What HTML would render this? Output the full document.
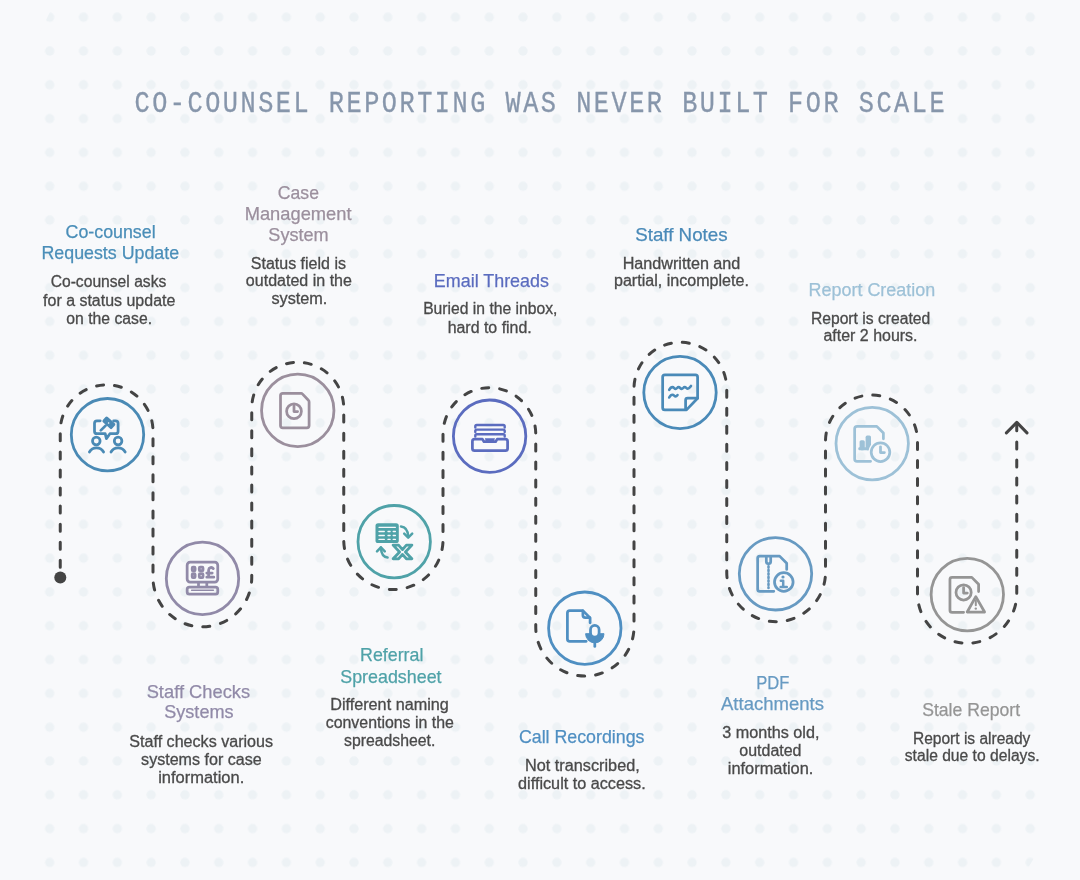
<!DOCTYPE html>
<html><head><meta charset="utf-8"><style>
html,body{margin:0;padding:0;background:#f8f9fb;}
body{width:1080px;height:880px;overflow:hidden;position:relative;}
svg{position:absolute;left:0;top:0;will-change:transform;}
.t{font-family:"Liberation Sans",sans-serif;font-size:18.6px;text-anchor:middle;stroke-width:0.25px;}
.b{font-family:"Liberation Sans",sans-serif;font-size:15.8px;text-anchor:middle;fill:#4a4a4a;stroke:#4a4a4a;stroke-width:0.3px;}
.h{font-family:"Liberation Mono",monospace;font-size:30.4px;fill:#8796ab;stroke:#8796ab;stroke-width:0.35px;text-anchor:middle;letter-spacing:3.05px;}
</style></head><body>
<svg width="1080" height="880" viewBox="0 0 1080 880">
<defs><pattern id="dots" patternUnits="userSpaceOnUse" x="32.8" y="0.3" width="33.81" height="33.81"><circle cx="16.9" cy="16.9" r="4.7" fill="#edf2f5"/></pattern></defs>
<rect x="30" y="0" width="1020" height="880" fill="url(#dots)"/>
<path d="M55.8 0 L37.7 37 L30 37 L30 0 Z M1042 845 L1020.7 880 L1080 880 L1080 845 Z" fill="#f8f9fb"/>
<text x="0" y="0" class="h" transform="translate(540.8 112.2) scale(0.83 1)">CO-COUNSEL REPORTING WAS NEVER BUILT FOR SCALE</text>
<path d="M60.25 577.5 L60.25 431.2 A46.375 46.375 0 0 1 153 431.2 L153 577.5 A49.375 49.375 0 0 0 251.75 577.5 L251.75 408.3 A46.0 46.0 0 0 1 343.75 408.3 L343.75 540.0 A49.625 49.625 0 0 0 443 540.0 L443 434.1 A46.375 46.375 0 0 1 535.75 434.1 L535.75 627.0 A49.125 49.125 0 0 0 634 627.0 L634 388.7 A46.375 46.375 0 0 1 726.75 388.7 L726.75 572.4 A49.375 49.375 0 0 0 825.5 572.4 L825.5 441.1 A46.0 46.0 0 0 1 917.5 441.1 L917.5 593.6 A49.625 49.625 0 0 0 1016.75 593.6 L1016.75 423" fill="none" stroke="#444444" stroke-width="3" stroke-linecap="round" stroke-dasharray="7 11.058" stroke-dashoffset="7.8"/>
<circle cx="60.3" cy="577.5" r="6" fill="#444444"/>
<polyline points="1006.4,432.9 1016.8,422.4 1027,432.9" fill="none" stroke="#444444" stroke-width="3" stroke-linecap="round" stroke-linejoin="round"/>
<circle cx="107.5" cy="434.7" r="36.2" fill="none" stroke="#4a8ab5" stroke-width="2.8"/><circle cx="202.5" cy="578.4" r="36.2" fill="none" stroke="#918aa8" stroke-width="2.8"/><circle cx="297.75" cy="410.4" r="36.2" fill="none" stroke="#9b8f9d" stroke-width="2.8"/><circle cx="394.2" cy="541.7" r="36.2" fill="none" stroke="#4fa2a8" stroke-width="2.8"/><circle cx="489.6" cy="436.2" r="36.2" fill="none" stroke="#5b6cbf" stroke-width="2.8"/><circle cx="584.8" cy="628.2" r="36.2" fill="none" stroke="#4f8fc2" stroke-width="2.8"/><circle cx="680" cy="392.5" r="36.2" fill="none" stroke="#4a8ab8" stroke-width="2.8"/><circle cx="775.5" cy="573.8" r="36.2" fill="none" stroke="#679ac2" stroke-width="2.8"/><circle cx="872.2" cy="443.6" r="36.2" fill="none" stroke="#9dc1d7" stroke-width="2.8"/><circle cx="967.3" cy="594.6" r="36.2" fill="none" stroke="#959595" stroke-width="2.8"/>
<g stroke="#4a8ab5" fill="none" stroke-width="2.75" stroke-linecap="round" stroke-linejoin="round"><path d="M100.2 420.8 H97 Q94.5 420.8 94.5 423.3 V431.2 Q94.5 433.7 97 433.7 H105.2 L106.4 438.6 L109.9 433.7 H115.6 Q118.1 433.7 118.1 431.2 V423.3 Q118.1 420.8 115.6 420.8 H113.6"/><line x1="100.8" y1="430.4" x2="105.6" y2="425.6"/><circle cx="96.3" cy="441" r="3.8"/><circle cx="118.1" cy="441" r="3.8"/><path d="M89.4 452 A8.1 8.1 0 0 1 103.6 452"/><path d="M111 452 A8.1 8.1 0 0 1 125.2 452"/></g><rect x="-6.3" y="-3.6" width="12.6" height="7.2" rx="1.6" fill="#4a8ab5" transform="translate(108.85 422.8) rotate(42)"/><circle cx="108.6" cy="423" r="0.8" fill="#f8f9fb"/>
<g stroke="#918aa8" fill="none" stroke-width="2.75" stroke-linecap="round" stroke-linejoin="round"><rect x="187.15" y="562.15" width="30.6" height="19.9" rx="3"/><rect x="187.15" y="587.15" width="30.6" height="7" rx="2.2"/><line x1="198.5" y1="583" x2="198.5" y2="586"/><line x1="206.8" y1="583" x2="206.8" y2="586"/><rect x="192.2" y="567.1" width="2.9" height="3.6" rx="0.8"/><rect x="199.3" y="567.1" width="3.7" height="3.6" rx="0.8"/><rect x="192.2" y="573.7" width="2.9" height="3.8" rx="0.8"/><rect x="199.3" y="573.7" width="3.7" height="3.8" rx="0.8"/><path d="M213.3 568.6 A2.6 2.6 0 0 0 208.6 570 V577.2 M206.8 573 H212.2 M206.8 577.2 H213.8"/><line x1="191.6" y1="590.2" x2="213.4" y2="590.2" stroke-width="1.4"/></g>
<g stroke="#9b8f9d" fill="none" stroke-width="2.75" stroke-linecap="round" stroke-linejoin="round"><path d="M301.2 393.4 H282.8 Q280.5 393.4 280.5 395.7 V425.5 Q280.5 427.8 282.8 427.8 H306.8 Q309.1 427.8 309.1 425.5 V401.9 Q309.1 400.9 308.4 400.2 L302.6 394.1 Q301.9 393.4 301.2 393.4 Z"/><circle cx="294" cy="411.3" r="7.4"/><path d="M294 406.2 V411.6 H297.6"/></g>
<rect x="375.5" y="523.25" width="23.3" height="19.85" rx="2.6" fill="#4fa2a8"/><g stroke="#f8f9fb" stroke-width="1.3" stroke-linecap="round"><line x1="379" y1="527.3" x2="395.4" y2="527.3"/><line x1="379" y1="531.5" x2="384.3" y2="531.5"/><line x1="388" y1="531.5" x2="390.1" y2="531.5"/><line x1="393.2" y1="531.5" x2="395.4" y2="531.5"/><line x1="379" y1="535.5" x2="384.3" y2="535.5"/><line x1="388" y1="535.5" x2="390.1" y2="535.5"/><line x1="393.2" y1="535.5" x2="395.4" y2="535.5"/><line x1="379" y1="539.4" x2="384.3" y2="539.4"/><line x1="388" y1="539.4" x2="390.1" y2="539.4"/><line x1="393.2" y1="539.4" x2="395.4" y2="539.4"/></g><g stroke="#4fa2a8" fill="none" stroke-width="2.5" stroke-linecap="round" stroke-linejoin="round"><path d="M401 526.4 Q407.8 527 408.2 536.5"/><path d="M404.2 533.6 L408.2 537.6 L412.2 533.6"/><path d="M387.6 557.6 Q381.2 556.8 380.9 547.5"/><path d="M377 551.3 L380.9 547.3 L384.8 551.3"/><path d="M393.1 545.1 H398.6 L402.5 549.6 L406.4 545.1 H411.9 L405.4 552 L411.9 558.8 H406.4 L402.5 554.4 L398.6 558.8 H393.1 L399.6 552 Z" stroke-width="2.8"/></g>
<g stroke="#5b6cbf" fill="none" stroke-width="2.75" stroke-linecap="round" stroke-linejoin="round"><path d="M482.4 439.1 H474.6 Q472.4 439.1 472.4 441.3 V448.4 Q472.4 450.6 474.6 450.6 H505.4 Q507.6 450.6 507.6 448.4 V441.3 Q507.6 439.1 505.4 439.1 H497.2 L495.6 441.7 H484 Z"/><path d="M475.3 427.6 V426.4 Q475.3 425 476.7 425 H503.3 Q504.7 425 504.7 426.4 V427.6" stroke-width="2.4"/><path d="M475.3 432 V430.9 Q475.3 429.6 476.7 429.6 H503.3 Q504.7 429.6 504.7 430.9 V432" stroke-width="2.4"/><path d="M475.3 436.6 V435.5 Q475.3 434.2 476.7 434.2 H503.3 Q504.7 434.2 504.7 435.5 V436.6" stroke-width="2.4"/></g><path d="M484.8 438.2 H495 L494 441 H485.8 Z" fill="#5b6cbf"/>
<g stroke="#4f8fc2" fill="none" stroke-width="2.75" stroke-linecap="round" stroke-linejoin="round"><path d="M586.2 641.35 H569.8 Q567.4 641.35 567.4 638.9 V613.1 Q567.4 610.65 569.8 610.65 H582.9 L590.1 617.9 V622.8"/><path d="M582.9 610.9 V615.3 Q582.9 617.6 585.2 617.6 H589.8"/><line x1="594.8" y1="641.5" x2="594.8" y2="646.4"/></g><path d="M585.6 633.7 A9.2 9.2 0 0 0 604 633.7 Z" fill="#4f8fc2" stroke="#4f8fc2" stroke-width="1" stroke-linejoin="round"/><rect x="590.5" y="625.4" width="8.6" height="11.6" rx="4.3" fill="#f8f9fb" stroke="#4f8fc2" stroke-width="2.75"/>
<g stroke="#4a8ab8" fill="none" stroke-width="2.75" stroke-linecap="round" stroke-linejoin="round"><path d="M686.5 409.85 H664.8 Q662.65 409.85 662.65 407.7 V377.1 Q662.65 374.95 664.8 374.95 H695.45 Q697.6 374.95 697.6 377.1 V398.2 Z"/><path d="M697.6 398.2 H687.6 Q685.6 398.2 685.6 400.2 V409.6"/><path d="M669.2 389.9 C670.2 388 671.3 387.1 672.5 387.1 C674 387.1 674.3 388.9 675.6 388.9 C677 388.9 677.2 387.1 678.6 387.1 C680 387.1 680.3 388.9 681.7 388.9 C683.1 388.9 683.3 387.1 684.7 387.1 C686.1 387.1 686.4 388.75 687.8 388.75 C689.2 388.75 690.2 387 691 386" stroke-width="2.6"/><path d="M669.2 397.5 C670.2 395.6 671.3 394.7 672.5 394.7 C674 394.7 674.3 396.4 675.6 396.4 C676.6 396.4 677.1 395.6 677.5 395.1" stroke-width="2.6"/></g>
<g stroke="#679ac2" fill="none" stroke-width="2.75" stroke-linecap="round" stroke-linejoin="round"><path d="M773.8 591.35 H759.8 Q757.65 591.35 757.65 589.2 V558.3 Q757.65 556.15 759.8 556.15 H779.6 L786.7 563.3 V569.4"/><path d="M766.3 556.6 V561.6 A2.2 2.2 0 0 0 770.7 561.6 V556.6"/><line x1="768.5" y1="566.4" x2="768.5" y2="588" stroke-width="2.6" stroke-dasharray="1.1 2.4"/><circle cx="783.8" cy="582" r="9.3"/><path d="M780.8 580.8 H783.2 V586.7 M780.6 586.9 H786.8" stroke-width="2.5"/></g><circle cx="783" cy="577" r="1.6" fill="#679ac2"/>
<g fill="#9dc1d7"><rect x="859.6" y="440.2" width="5.2" height="10" rx="1.6"/><rect x="865.6" y="435.6" width="5.4" height="14.6" rx="1.6"/><rect x="858.4" y="447.2" width="11" height="3" rx="1"/></g><circle cx="880.5" cy="452.2" r="9.3" fill="none" stroke="#f8f9fb" stroke-width="5.2"/><g stroke="#9dc1d7" fill="none" stroke-width="2.75" stroke-linecap="round" stroke-linejoin="round"><path d="M870.6 461.35 H857.1 Q854.65 461.35 854.65 458.9 V428.85 Q854.65 426.4 857.1 426.4 H876.8 L883.4 433 V438.8"/><circle cx="880.5" cy="452.2" r="9.3"/><path d="M880.5 446.8 V452.6 H884.4"/></g>
<g stroke="#959595" fill="none" stroke-width="2.75" stroke-linecap="round" stroke-linejoin="round"><path d="M963.6 612.35 H952.1 Q949.95 612.35 949.95 610.2 V579.5 Q949.95 577.4 952.1 577.4 H971.8 L978.6 584.2 V591.6"/><circle cx="963.6" cy="592.4" r="7.6"/><path d="M963.6 587.6 V593 H967.3"/><path d="M975.8 596.6 L984.6 612 H967.2 Z"/><line x1="975.8" y1="600.4" x2="975.8" y2="605.2" stroke-width="2"/></g><circle cx="975.8" cy="608.6" r="1.2" fill="#959595"/>
<text x="110.6" y="238.40" class="t" fill="#4a8eb8" stroke="#4a8eb8" textLength="90.12" lengthAdjust="spacingAndGlyphs">Co-counsel</text>
<text x="110.29999999999998" y="259.20" class="t" fill="#4a8eb8" stroke="#4a8eb8" textLength="137.72" lengthAdjust="spacingAndGlyphs">Requests Update</text>
<text x="108.5" y="287.20" class="b" textLength="115.67" lengthAdjust="spacingAndGlyphs">Co-counsel asks</text>
<text x="109.20000000000002" y="305.50" class="b" textLength="132.27" lengthAdjust="spacingAndGlyphs">for a status update</text>
<text x="109.19999999999999" y="323.50" class="b" textLength="85.77" lengthAdjust="spacingAndGlyphs">on the case.</text>
<text x="198.39999999999998" y="697.50" class="t" fill="#918aa8" stroke="#918aa8" textLength="103.46" lengthAdjust="spacingAndGlyphs">Staff Checks</text>
<text x="198.89999999999998" y="718.30" class="t" fill="#918aa8" stroke="#918aa8" textLength="69.36" lengthAdjust="spacingAndGlyphs">Systems</text>
<text x="201.2" y="746.60" class="b" textLength="143.70" lengthAdjust="spacingAndGlyphs">Staff checks various</text>
<text x="201.39999999999998" y="764.90" class="b" textLength="120.52" lengthAdjust="spacingAndGlyphs">systems for case</text>
<text x="201.2" y="782.90" class="b" textLength="86.11" lengthAdjust="spacingAndGlyphs">information.</text>
<text x="298.4000000000001" y="199.00" class="t" fill="#9b8f9d" stroke="#9b8f9d" textLength="41.15" lengthAdjust="spacingAndGlyphs">Case</text>
<text x="298.1" y="219.70" class="t" fill="#9b8f9d" stroke="#9b8f9d" textLength="106.82" lengthAdjust="spacingAndGlyphs">Management</text>
<text x="298.5" y="241.00" class="t" fill="#9b8f9d" stroke="#9b8f9d" textLength="60.37" lengthAdjust="spacingAndGlyphs">System</text>
<text x="298.4000000000001" y="268.50" class="b" textLength="95.27" lengthAdjust="spacingAndGlyphs">Status field is</text>
<text x="298.9" y="286.00" class="b" textLength="106.04" lengthAdjust="spacingAndGlyphs">outdated in the</text>
<text x="299.4" y="304.30" class="b" textLength="55.96" lengthAdjust="spacingAndGlyphs">system.</text>
<text x="391.70000000000005" y="661.40" class="t" fill="#4fa2a8" stroke="#4fa2a8" textLength="63.35" lengthAdjust="spacingAndGlyphs">Referral</text>
<text x="390.9" y="682.70" class="t" fill="#4fa2a8" stroke="#4fa2a8" textLength="101.30" lengthAdjust="spacingAndGlyphs">Spreadsheet</text>
<text x="389.5" y="710.20" class="b" textLength="118.57" lengthAdjust="spacingAndGlyphs">Different naming</text>
<text x="389.79999999999995" y="728.20" class="b" textLength="128.25" lengthAdjust="spacingAndGlyphs">conventions in the</text>
<text x="389.70000000000005" y="746.30" class="b" textLength="91.45" lengthAdjust="spacingAndGlyphs">spreadsheet.</text>
<text x="491.4" y="286.90" class="t" fill="#5b6cbf" stroke="#5b6cbf" textLength="115.09" lengthAdjust="spacingAndGlyphs">Email Threads</text>
<text x="490.30000000000007" y="314.40" class="b" textLength="134.34" lengthAdjust="spacingAndGlyphs">Buried in the inbox,</text>
<text x="489.70000000000005" y="332.90" class="b" textLength="84.15" lengthAdjust="spacingAndGlyphs">hard to find.</text>
<text x="581.7" y="742.90" class="t" fill="#4f8fc2" stroke="#4f8fc2" textLength="125.50" lengthAdjust="spacingAndGlyphs">Call Recordings</text>
<text x="582.4000000000001" y="771.20" class="b" textLength="114.69" lengthAdjust="spacingAndGlyphs">Not transcribed,</text>
<text x="581.9000000000001" y="789.30" class="b" textLength="127.63" lengthAdjust="spacingAndGlyphs">difficult to access.</text>
<text x="681.4000000000001" y="241.20" class="t" fill="#4a8ab8" stroke="#4a8ab8" textLength="92.47" lengthAdjust="spacingAndGlyphs">Staff Notes</text>
<text x="681.5" y="269.10" class="b" textLength="117.69" lengthAdjust="spacingAndGlyphs">Handwritten and</text>
<text x="681.4000000000001" y="286.40" class="b" textLength="134.92" lengthAdjust="spacingAndGlyphs">partial, incomplete.</text>
<text x="772.8" y="688.80" class="t" fill="#679ac2" stroke="#679ac2" textLength="33.06" lengthAdjust="spacingAndGlyphs">PDF</text>
<text x="772.5" y="710.00" class="t" fill="#679ac2" stroke="#679ac2" textLength="102.96" lengthAdjust="spacingAndGlyphs">Attachments</text>
<text x="770.8" y="737.90" class="b" textLength="97.19" lengthAdjust="spacingAndGlyphs">3 months old,</text>
<text x="770.4000000000001" y="755.50" class="b" textLength="62.21" lengthAdjust="spacingAndGlyphs">outdated</text>
<text x="770.5999999999999" y="773.80" class="b" textLength="85.50" lengthAdjust="spacingAndGlyphs">information.</text>
<text x="871.9000000000001" y="295.50" class="t" fill="#9dc1d7" stroke="#9dc1d7" textLength="126.58" lengthAdjust="spacingAndGlyphs">Report Creation</text>
<text x="870.5999999999999" y="323.60" class="b" textLength="119.39" lengthAdjust="spacingAndGlyphs">Report is created</text>
<text x="870.5" y="341.40" class="b" textLength="93.99" lengthAdjust="spacingAndGlyphs">after 2 hours.</text>
<text x="971.0999999999999" y="715.70" class="t" fill="#959595" stroke="#959595" textLength="97.94" lengthAdjust="spacingAndGlyphs">Stale Report</text>
<text x="971.6999999999998" y="743.70" class="b" textLength="117.41" lengthAdjust="spacingAndGlyphs">Report is already</text>
<text x="972.2" y="761.30" class="b" textLength="134.81" lengthAdjust="spacingAndGlyphs">stale due to delays.</text>
</svg>
</body></html>
